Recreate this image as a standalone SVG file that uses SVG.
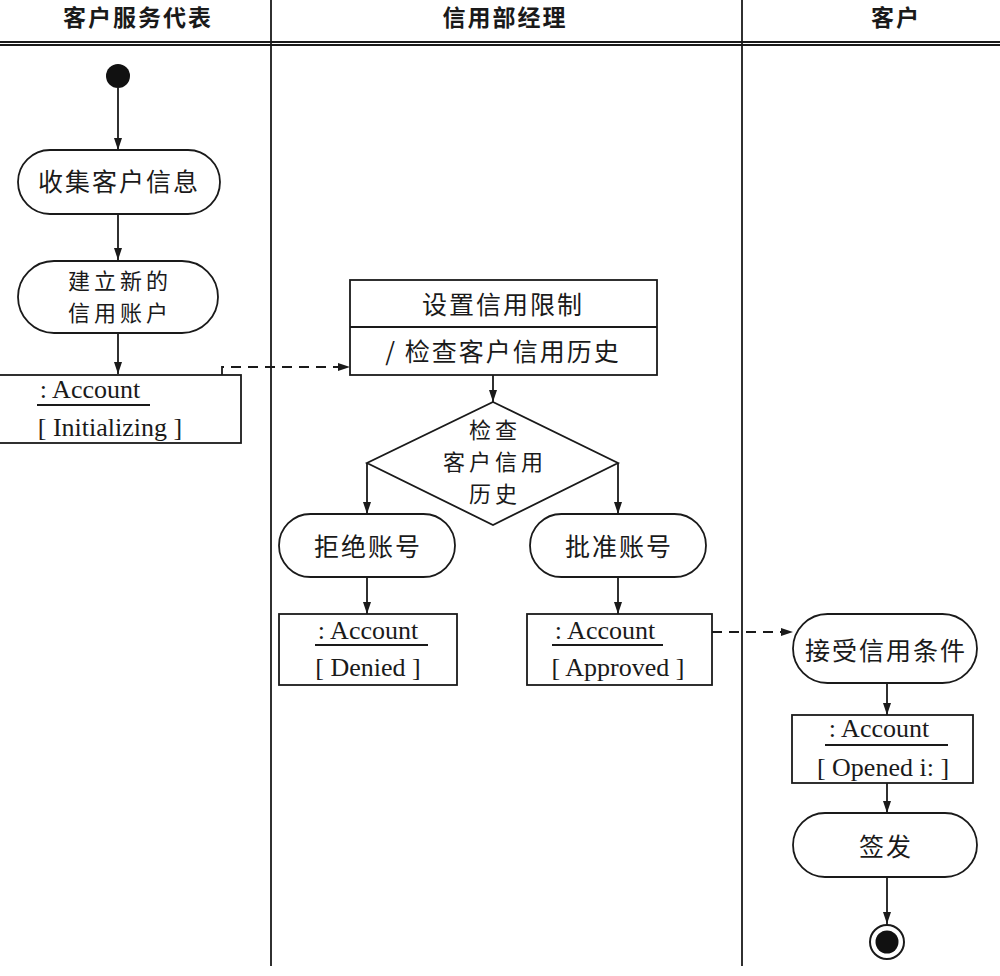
<svg xmlns="http://www.w3.org/2000/svg" width="1000" height="976" viewBox="0 0 1000 976">
<style>
.ln{stroke:#1a1a1a;stroke-width:1.8;fill:none}
.nd{stroke:#1a1a1a;stroke-width:1.8;fill:#fff}
.cn{font-family:"Noto Sans CJK SC","Noto Sans CJK JP",sans-serif;font-size:25px;fill:#1a1a1a;text-anchor:middle;letter-spacing:2px}
.cm{font-family:"Noto Sans CJK SC","Noto Sans CJK JP",sans-serif;font-size:22px;fill:#1a1a1a;text-anchor:middle;letter-spacing:4px}
.hd{font-family:"Noto Sans CJK SC",sans-serif;font-size:23px;font-weight:bold;fill:#1a1a1a;text-anchor:middle;letter-spacing:2px}
.lt{font-family:"Liberation Serif",serif;font-size:26px;fill:#1a1a1a;text-anchor:middle}
.dash{stroke-dasharray:10 7}
</style>
<defs>
<marker id="ar" viewBox="0 0 12 8" refX="12" refY="4" markerWidth="12" markerHeight="8" markerUnits="userSpaceOnUse" orient="auto">
<path d="M0,0 L12,4 L0,8 Z" fill="#1a1a1a"/>
</marker>
</defs>
<rect width="1000" height="976" fill="#fff"/>
<g id="lanes">
<line class="ln" x1="0" y1="42" x2="1000" y2="42"/>
<line class="ln" x1="0" y1="45" x2="1000" y2="45" stroke-width="1"/>
<line class="ln" x1="271" y1="0" x2="271" y2="966"/>
<line class="ln" x1="742" y1="0" x2="742" y2="966"/>
<text class="hd" x="138" y="26">客户服务代表</text>
<text class="hd" x="505" y="26">信用部经理</text>
<text class="hd" x="896" y="26">客户</text>
</g>
<g id="connectors">
<line class="ln" x1="118" y1="88" x2="118" y2="150" marker-end="url(#ar)"/>
<line class="ln" x1="118" y1="214" x2="118" y2="260" marker-end="url(#ar)"/>
<line class="ln" x1="118" y1="333" x2="118" y2="374" marker-end="url(#ar)"/>
<path class="ln dash" d="M222,375 L222,367 L350,367" marker-end="url(#ar)"/>
<line class="ln" x1="493" y1="375" x2="493" y2="402" marker-end="url(#ar)"/>
<line class="ln" x1="367" y1="463" x2="367" y2="514" marker-end="url(#ar)"/>
<line class="ln" x1="618" y1="463" x2="618" y2="514" marker-end="url(#ar)"/>
<line class="ln" x1="367" y1="577" x2="367" y2="614" marker-end="url(#ar)"/>
<line class="ln" x1="618" y1="577" x2="618" y2="614" marker-end="url(#ar)"/>
<line class="ln dash" x1="712" y1="632" x2="793" y2="632" marker-end="url(#ar)"/>
<line class="ln" x1="887" y1="683" x2="887" y2="715" marker-end="url(#ar)"/>
<line class="ln" x1="887" y1="783" x2="887" y2="813" marker-end="url(#ar)"/>
<line class="ln" x1="887" y1="877" x2="887" y2="924" marker-end="url(#ar)"/>
</g>
<g id="start"><circle cx="118" cy="76" r="12" fill="#111"/></g>
<g id="collect">
<rect class="nd" x="18" y="150" width="202" height="64" rx="32"/>
<text class="cn" x="119" y="191">收集客户信息</text>
</g>
<g id="create">
<rect class="nd" x="18" y="261" width="200" height="72" rx="36"/>
<text class="cm" x="120" y="289">建立新的</text>
<text class="cm" x="120" y="321">信用账户</text>
</g>
<g id="obj-init">
<rect class="nd" x="-2" y="375" width="243" height="68"/>
<text class="lt" x="90" y="398">: Account</text>
<line class="ln" x1="37" y1="405" x2="150" y2="405" stroke-width="1.4"/>
<text class="lt" x="110" y="436">[ Initializing ]</text>
</g>
<g id="setlimit">
<rect class="nd" x="350" y="280" width="307" height="95"/>
<line class="ln" x1="350" y1="327" x2="657" y2="327"/>
<text class="cn" x="503" y="314">设置信用限制</text>
<text class="cn" x="503" y="361">/ 检查客户信用历史</text>
</g>
<g id="decision">
<path class="nd" d="M493,402 L618,463 L493,525 L367,463 Z"/>
<text class="cm" x="495" y="438">检查</text>
<text class="cm" x="495" y="470">客户信用</text>
<text class="cm" x="495" y="502">历史</text>
</g>
<g id="reject">
<rect class="nd" x="279" y="514" width="176" height="63" rx="31.5"/>
<text class="cn" x="368" y="556">拒绝账号</text>
</g>
<g id="approve">
<rect class="nd" x="530" y="514" width="176" height="63" rx="31.5"/>
<text class="cn" x="619" y="556">批准账号</text>
</g>
<g id="obj-denied">
<rect class="nd" x="279" y="614" width="178" height="71"/>
<text class="lt" x="368" y="639">: Account</text>
<line class="ln" x1="315" y1="645" x2="428" y2="645" stroke-width="1.4"/>
<text class="lt" x="368" y="676">[ Denied ]</text>
</g>
<g id="obj-approved">
<rect class="nd" x="527" y="614" width="185" height="71"/>
<text class="lt" x="605" y="639">: Account</text>
<line class="ln" x1="552" y1="645" x2="663" y2="645" stroke-width="1.4"/>
<text class="lt" x="618" y="676">[ Approved ]</text>
</g>
<g id="accept">
<rect class="nd" x="793" y="614" width="184" height="69" rx="34.5"/>
<text class="cn" x="886" y="660">接受信用条件</text>
</g>
<g id="obj-opened">
<rect class="nd" x="792" y="715" width="181" height="68"/>
<text class="lt" x="879" y="737">: Account</text>
<line class="ln" x1="825" y1="745" x2="948" y2="745" stroke-width="1.4"/>
<text class="lt" x="883" y="776">[ Opened i: ]</text>
</g>
<g id="issue">
<rect class="nd" x="793" y="813" width="184" height="64" rx="32"/>
<text class="cn" x="886" y="856">签发</text>
</g>
<g id="end">
<circle cx="887" cy="942" r="17" fill="#fff" stroke="#1a1a1a" stroke-width="2"/>
<circle cx="887" cy="942" r="11.5" fill="#111"/>
</g>
</svg>
